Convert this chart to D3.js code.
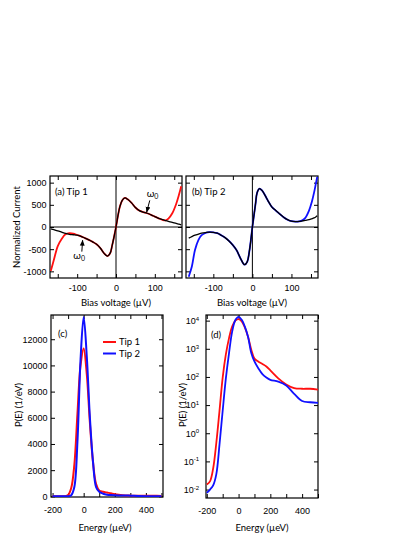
<!DOCTYPE html>
<html>
<head>
<meta charset="utf-8">
<script src="https://cdn.jsdelivr.net/npm/d3@7"></script>
<style>
  body { margin: 0; background: #fff; }
  svg { display: block; font-family: Lato, "Open Sans", sans-serif; }
  .tick text { font-size: 9px; fill: #000; }
  .domain { display: none; }
  .tick line { stroke: #000; stroke-width: 1; }
</style>
</head>
<body>
<div id="chart"></div>
<script>
// ---- data ----
// (a) tip 1: bias voltage (µV), measured and fitted normalized current
var biasA = [-168,-160,-150,-140,-130,-120,-110,-100,-90,-80,-70,-60,-50,-40,-30,-22,-15,-10,-5,0,5,10,16,23,30,40,50,60,70,80,90,100,110,120,128,135,145,155,162,168];
var tip1Meas = [-990,-740,-430,-270,-165,-140,-150,-180,-210,-250,-290,-335,-390,-480,-600,-655,-590,-420,-220,0,250,460,600,655,625,545,440,370,335,310,275,235,195,160,150,190,310,520,720,920];
var tip1Fit  = [-40,-60,-85,-115,-145,-165,-175,-185,-210,-250,-290,-335,-390,-480,-600,-655,-590,-420,-220,0,250,460,600,655,625,545,440,370,335,310,275,235,195,165,145,128,105,80,65,50];

// (b) tip 2
var biasB = [-163,-155,-147,-138,-130,-120,-110,-100,-90,-80,-70,-60,-50,-40,-30,-20,-13,-8,-4,0,4,8,12,18,25,32,40,50,60,70,80,90,100,110,120,128,135,145,152,158,163,166];
var tip2Meas = [-1120,-890,-520,-290,-185,-135,-115,-120,-140,-185,-240,-315,-410,-530,-715,-850,-780,-560,-300,0,260,520,770,866,820,720,590,450,370,295,220,165,130,122,127,150,200,370,560,780,1000,1130];
var tip2Fit  = [-250,-215,-185,-160,-140,-125,-115,-120,-140,-185,-240,-315,-410,-530,-715,-850,-780,-560,-300,0,260,520,770,866,820,720,590,450,370,295,220,165,130,122,127,138,148,165,185,205,232,255];

// (c)/(d) P(E) in 1/eV versus energy (µeV)
var energy = [-200,-180,-160,-140,-120,-100,-80,-60,-40,-20,0,20,40,60,80,100,125,150,175,200,250,300,350,400,450,500];
var pTip1 = [0.015,0.0195,0.056,0.46,6.3,95,630,2400,6300,10000,11300,9330,5620,2630,930,447,347,288,234,170,89,54,40,38,38,35.5];
var pTip2 = [0.0076,0.01,0.0141,0.0355,0.4,6.3,89,708,4170,10470,13700,10700,6030,2630,708,355,200,126,95,79,68,50,25,14,12.6,12];

var legendNames = ["Tip 1", "Tip 2"];
var colRed = "#ff1010", colBlue = "#1010ff";

var svg = d3.select("#chart").append("svg")
  .attr("width", 415).attr("height", 537);

// plain hyphen for negative numbers, as in the original
var fmt = function(d){ return String(d); };

// frame with inward ticks on all four sides
function makePanel(cfg) {
  var g = svg.append("g");
  var x = d3.scaleLinear().domain(cfg.xd).range([cfg.l, cfg.r]);
  var y = (cfg.log ? d3.scaleLog() : d3.scaleLinear()).domain(cfg.yd).range([cfg.b, cfg.t]);

  // bottom
  g.append("g").attr("transform", "translate(0," + cfg.b + ")")
    .call(d3.axisBottom(x).tickValues(cfg.xTicks).tickSizeInner(-4).tickSizeOuter(0).tickPadding(cfg.xPad)
      .tickFormat(function(d){ return cfg.xLabels.indexOf(d) >= 0 ? fmt(d) : ""; }));
  // top
  g.append("g").attr("transform", "translate(0," + cfg.t + ")")
    .call(d3.axisTop(x).tickValues(cfg.xTicks).tickSizeInner(-4).tickSizeOuter(0).tickFormat(""));
  // left
  var ly = g.append("g").attr("transform", "translate(" + cfg.l + ",0)")
    .call(d3.axisLeft(y).tickValues(cfg.yTicks).tickSizeInner(-4).tickSizeOuter(0).tickPadding(cfg.yPad)
      .tickFormat(cfg.yLabels ? fmt : ""));
  // right
  g.append("g").attr("transform", "translate(" + cfg.r + ",0)")
    .call(d3.axisRight(y).tickValues(cfg.yTicks).tickSizeInner(-4).tickSizeOuter(0).tickFormat(""));

  g.append("rect")
    .attr("x", cfg.l).attr("y", cfg.t)
    .attr("width", cfg.r - cfg.l).attr("height", cfg.b - cfg.t)
    .attr("fill", "none").attr("stroke", "#000").attr("stroke-width", 1.2);

  var clip = "clip" + cfg.id;
  g.append("clipPath").attr("id", clip).append("rect")
    .attr("x", cfg.l).attr("y", cfg.t).attr("width", cfg.r - cfg.l).attr("height", cfg.b - cfg.t);
  var plot = g.append("g").attr("clip-path", "url(#" + clip + ")");

  return { g: g, x: x, y: y, plot: plot, left: ly };
}

function drawLine(p, xs, ys, color, w) {
  var line = d3.line()
    .x(function(d, i){ return p.x(xs[i]); })
    .y(function(d){ return p.y(d); })
    .curve(d3.curveCatmullRom.alpha(0.5));
  p.plot.append("path").datum(ys)
    .attr("d", line)
    .attr("fill", "none").attr("stroke", color)
    .attr("stroke-width", w).attr("stroke-linejoin", "round");
}

function zeroLines(p) {
  p.plot.append("line")
    .attr("x1", p.x.range()[0]).attr("x2", p.x.range()[1])
    .attr("y1", p.y(0)).attr("y2", p.y(0))
    .attr("stroke", "#000").attr("stroke-width", 1);
  p.plot.append("line")
    .attr("x1", p.x(0)).attr("x2", p.x(0))
    .attr("y1", p.y.range()[0]).attr("y2", p.y.range()[1])
    .attr("stroke", "#000").attr("stroke-width", 1);
}

function label(x, y, txt, opts) {
  opts = opts || {};
  var t = svg.append("text")
    .attr("x", x).attr("y", y)
    .attr("font-size", opts.size || 9)
    .attr("text-anchor", opts.anchor || "start")
    .text(txt);
  if (opts.rotate) t.attr("transform", "rotate(-90," + x + "," + y + ")");
  return t;
}

// ---- (a) ----
var pa = makePanel({ id: "a", l: 50, r: 182, t: 176, b: 278,
  xd: [-170, 170], yd: [-1150, 1150],
  xTicks: [-150,-100,-50,0,50,100,150], xLabels: [-100,0,100], xPad: 7,
  yTicks: [-1000,-500,0,500,1000], yLabels: true, yPad: 3.5 });
zeroLines(pa);
drawLine(pa, biasA, tip1Meas, colRed, 1.8);
drawLine(pa, biasA, tip1Fit, "#000", 1.3);

// ---- (b) ----
var pb = makePanel({ id: "b", l: 186, r: 318, t: 176, b: 278,
  xd: [-170, 168], yd: [-1150, 1150],
  xTicks: [-150,-100,-50,0,50,100,150], xLabels: [-100,0,100], xPad: 7,
  yTicks: [-1000,-500,0,500,1000], yLabels: false, yPad: 3.5 });
zeroLines(pb);
drawLine(pb, biasB, tip2Meas, colBlue, 1.8);
drawLine(pb, biasB, tip2Fit, "#000", 1.3);

// ---- (c) ----
var pc = makePanel({ id: "c", l: 51, r: 163, t: 315, b: 497,
  xd: [-210, 510], yd: [-50, 13850],
  xTicks: [-200,-100,0,100,200,300,400,500], xLabels: [-200,0,200,400], xPad: 9.5,
  yTicks: [0,2000,4000,6000,8000,10000,12000], yLabels: true, yPad: 3.5 });
drawLine(pc, energy, pTip1, colRed, 2);
drawLine(pc, energy, pTip2, colBlue, 2);

// ---- (d) ----
var pd = makePanel({ id: "d", l: 206, r: 318, t: 315, b: 498, log: true,
  xd: [-205, 500], yd: [Math.pow(10, -2.3), Math.pow(10, 4.2)],
  xTicks: [-200,-100,0,100,200,300,400,500], xLabels: [-200,0,200,400], xPad: 9.5,
  yTicks: [1e-2,1e-1,1,1e1,1e2,1e3,1e4], yLabels: true, yPad: 7 });
// power-of-ten labels with superscripts
pd.left.selectAll(".tick text").each(function(d) {
  var t = d3.select(this).text(null);
  t.append("tspan").text("10");
  t.append("tspan").attr("dy", "-0.55em").attr("font-size", "6px").text(fmt(Math.round(Math.log10(d))));
});
drawLine(pd, energy, pTip1, colRed, 1.8);
drawLine(pd, energy, pTip2, colBlue, 1.8);

// ---- titles and labels ----
label(17, 227, "Normalized Current", { anchor: "middle", rotate: true, size: 9.5 }).attr("dy", "0.35em");
label(116, 306, "Bias voltage (µV)", { anchor: "middle", size: 9.5 });
label(252, 306, "Bias voltage (µV)", { anchor: "middle", size: 9.5 });
label(19, 405, "P(E) (1/eV)", { anchor: "middle", rotate: true, size: 9.5 }).attr("dy", "0.35em");
label(183, 405, "P(E) (1/eV)", { anchor: "middle", rotate: true, size: 9.5 }).attr("dy", "0.35em");
label(105, 531, "Energy (µeV)", { anchor: "middle", size: 9.5 });
label(262, 531, "Energy (µeV)", { anchor: "middle", size: 9.5 });

label(55, 195, "(a) Tip 1", { size: 9.5 });
label(192, 195, "(b) Tip 2", { size: 9.5 });
label(58, 337, "(c)", { size: 9.5 });
label(211, 338, "(d)", { size: 9.5 });

// legend in (c)
[colRed, colBlue].forEach(function(c, i) {
  var yy = 342 + i * 11.5;
  svg.append("line").attr("x1", 103).attr("x2", 116).attr("y1", yy).attr("y2", yy)
    .attr("stroke", c).attr("stroke-width", 2);
  label(119, yy, legendNames[i], { size: 9.5 }).attr("dy", "0.35em");
});

// omega_0 annotations with arrows in (a)
svg.append("defs").append("marker")
  .attr("id", "arrow").attr("viewBox", "0 0 10 10")
  .attr("refX", 9).attr("refY", 5)
  .attr("markerWidth", 6).attr("markerHeight", 6)
  .attr("orient", "auto")
  .append("path").attr("d", "M0,1 L10,5 L0,9 z").attr("fill", "#000");

function omega(x, y) {
  var t = svg.append("text").attr("x", x).attr("y", y).attr("font-size", 10);
  t.append("tspan").text("ω");
  t.append("tspan").attr("dy", "0.3em").attr("font-size", "7px").text("0");
}
omega(pa.x(79), pa.y(680));
svg.append("line")
  .attr("x1", pa.x(87)).attr("y1", pa.y(600))
  .attr("x2", pa.x(79)).attr("y2", pa.y(335))
  .attr("stroke", "#000").attr("stroke-width", 1).attr("marker-end", "url(#arrow)");

omega(pa.x(-110), pa.y(-720));
svg.append("line")
  .attr("x1", pa.x(-88)).attr("y1", pa.y(-555))
  .attr("x2", pa.x(-86)).attr("y2", pa.y(-300))
  .attr("stroke", "#000").attr("stroke-width", 1).attr("marker-end", "url(#arrow)");
</script>
</body>
</html>
